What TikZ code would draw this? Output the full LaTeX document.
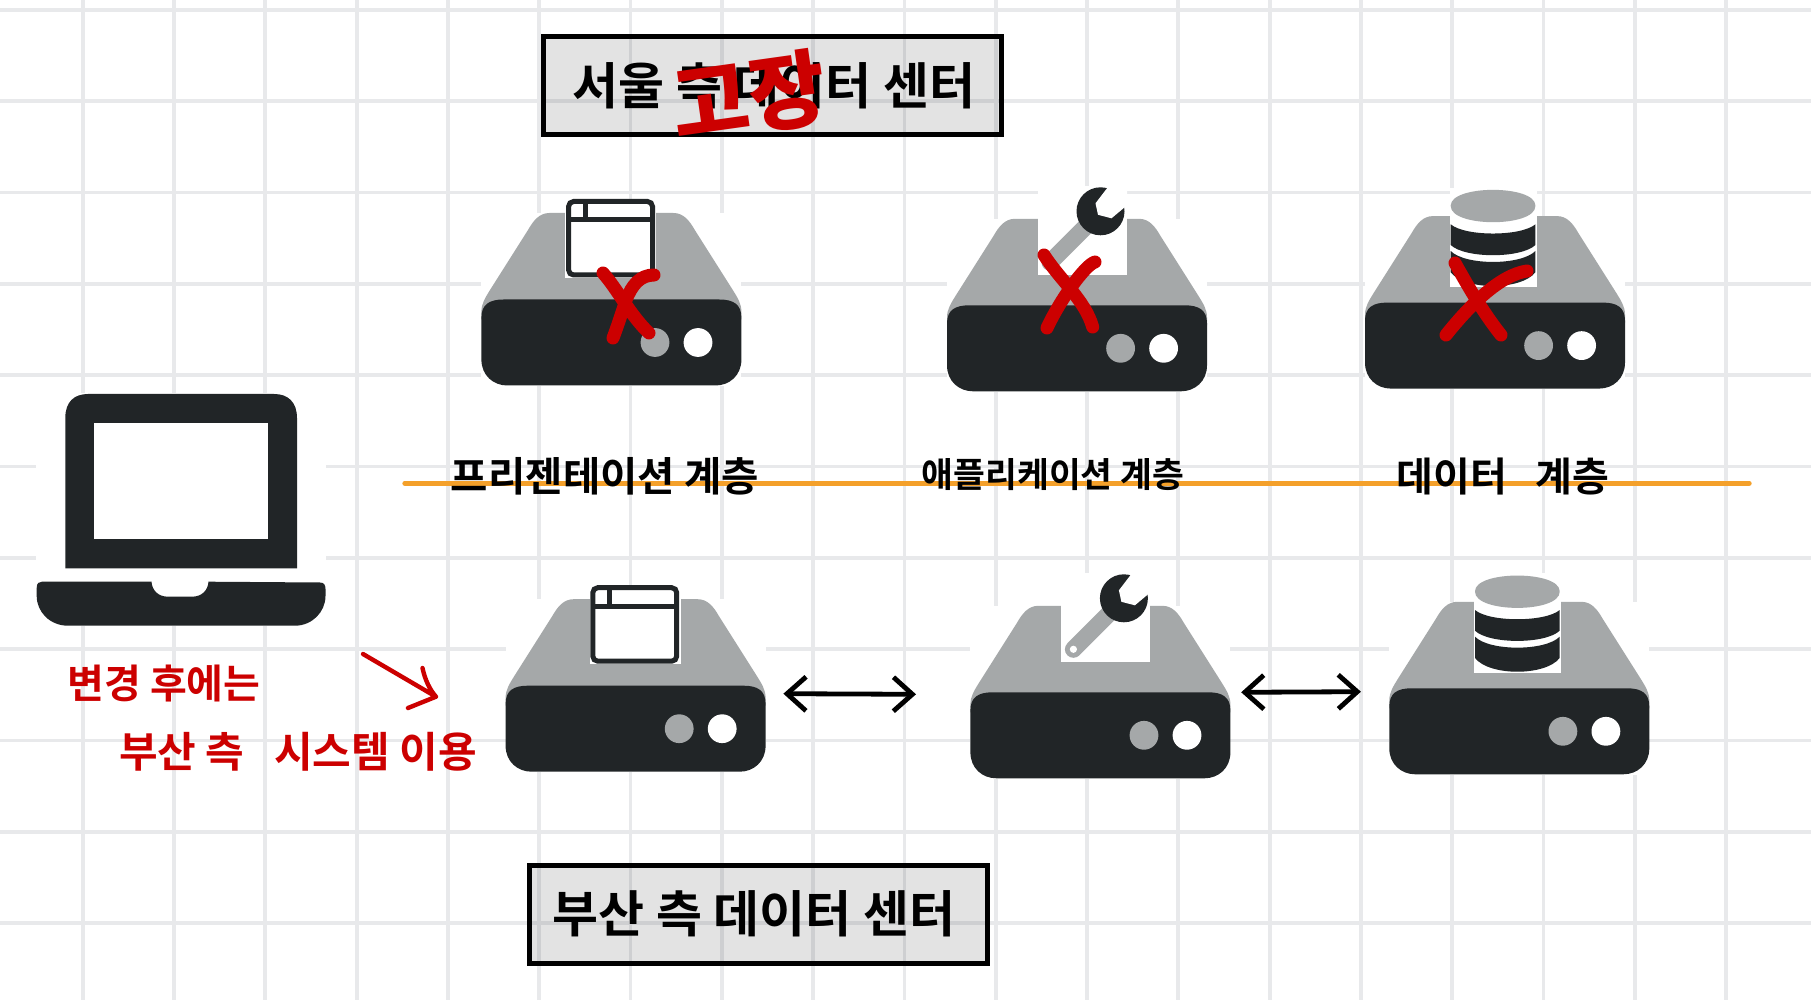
\documentclass[tikz,border=0pt]{standalone}
\usepackage{fontspec}
\setmainfont{Noto Sans CJK KR}[BoldFont=* Bold]
\newfontfamily\heavyfont{Noto Sans CJK KR Black}
\usetikzlibrary{arrows.meta,calc}
\definecolor{dk}{HTML}{212527}
\definecolor{gy}{HTML}{A5A8A9}
\definecolor{gridc}{HTML}{E8E9EB}
\definecolor{redink}{HTML}{CC0000}
\definecolor{orangeink}{HTML}{F4A02A}
\tikzset{
  gridline/.style={gridc,line width=1.9pt},
  halo/.style={fill=white,draw=none,inner sep=0pt,minimum width=130pt,minimum height=86.25pt},
  framebox/.style={draw=black,line width=2.5pt,fill=black,fill opacity=.11,text opacity=1,draw opacity=1,inner sep=0pt,outer sep=0pt,minimum width=229pt,minimum height=49pt},
  boxtxt/.style={font=\bfseries\fontsize{25}{25}\selectfont,text=black,inner sep=0pt},
  layertxt/.style={font=\bfseries\fontsize{#1}{#1}\selectfont,text=black,inner sep=0pt},
  redtxt/.style={font=\bfseries\fontsize{#1}{#1}\selectfont,text=redink,inner sep=0pt},
  crossmark/.style={redink,line width=6.5pt,line cap=round,line join=round},
  penarrow/.style={black,line width=2.4pt,line cap=round,{Straight Barb[length=9.5pt,width=17pt,line width=2.4pt]}-{Straight Barb[length=9.5pt,width=17pt,line width=2.4pt]}},
  wframe/.style={draw=dk,line width=2.5pt,fill=white,rounded corners=2.5pt},
  wline/.style={dk,line width=2.5pt},
}
\newcommand{\srv}[3]{%
  \node[halo] (#1) at (#2+130,#3) {};
  \begin{scope}[shift={(#2,#3)}]
    \fill[gy] (0,20) -- (0,12) .. controls (0,4) and (4,-2) .. (8.6,-9.5) -- (46.6,-69.5)
      .. controls (52,-79) and (58,-86.5) .. (68,-86.5) -- (192,-86.5)
      .. controls (202,-86.5) and (208,-79) .. (213.4,-69.5) -- (251.4,-9.5)
      .. controls (256,-2) and (260,4) .. (260,12) -- (260,20) -- cycle;
    \fill[dk] (0,18) .. controls (0,5) and (8,0) .. (22,0) -- (238,0)
      .. controls (252,0) and (260,5) .. (260,18) -- (260,60)
      .. controls (260,76) and (248,86) .. (234,86) -- (26,86)
      .. controls (12,86) and (0,76) .. (0,60) -- cycle;
    \fill[gy] (173.6,43) circle[radius=14.4];
    \fill[white] (216.6,43) circle[radius=14.4];
  \end{scope}}
\newcommand{\wnd}[2]{%
  \begin{scope}[shift={(#1,#2)}]
    \fill[white] (84,-100) rectangle (175,-21.5);
    \path[wframe] (87.2,-98) rectangle (171.1,-24.5);
    \draw[wline] (87.2,-79.5) -- (171.1,-79.5) (103.6,-98) -- (103.6,-79.5);
  \end{scope}}
\newcommand{\wrn}[2]{%
  \begin{scope}[shift={(#1,#2)}]
    \fill[white] (91,-119) rectangle (179.5,-30.5);
    \draw[gy,line width=8.5pt,line cap=round] (103,-43) -- (153,-93);
    \fill[dk] (153.5,-94) circle[radius=24];
    \fill[white] (161.5,-119) -- (148.5,-102) -- (151,-90.5) -- (164.5,-87) -- (180,-100) -- (180,-119) -- cycle;
    \fill[white] (103,-43) circle[radius=3.6];
  \end{scope}}
\newcommand{\dbs}[2]{%
  \begin{scope}[shift={(#1,#2)}]
    \fill[white] (84.7,-115) rectangle (171.7,-15.5);
    \fill[gy] (85.7,-97) .. controls (85.7,-118) and (170.4,-118) .. (170.4,-97) -- (170.4,-96.6)
      .. controls (170.4,-75) and (85.7,-75) .. (85.7,-96.6) -- cycle;
    \fill[dk] (85.7,-78.3) .. controls (100,-66) and (156,-66) .. (170.4,-78.3) -- (170.4,-57.6)
      .. controls (156,-44) and (100,-44) .. (85.7,-57.6) -- cycle;
    \fill[dk] (85.7,-51.6) .. controls (100,-37) and (156,-37) .. (170.4,-51.6) -- (170.4,-30.3)
      .. controls (156,-12) and (100,-12) .. (85.7,-30.3) -- cycle;
  \end{scope}}
\begin{document}
\begin{tikzpicture}[x=0.5pt,y=-0.5pt]
\useasboundingbox (0,0) rectangle (1811,1000);
\fill[white] (0,0) rectangle (1811,1000);
% grid paper
\foreach \k in {0,...,19} {\draw[gridline] ({82.7+91.3*\k},0) -- ({82.7+91.3*\k},1000);}
\foreach \k in {0,...,10} {\draw[gridline] (0,{10+91.3*\k}) -- (1811,{10+91.3*\k});}
% laptop
\node[fill=white,inner sep=0pt,minimum width=145pt,minimum height=116.5pt] (laptop) at (181,509.5) {};
\fill[dk] (65.3,568.3) -- (65.3,418) .. controls (65.3,402) and (74,394) .. (88,394) -- (274,394)
  .. controls (288,394) and (297,402) .. (297,418) -- (297,568.3) -- cycle;
\fill[white] (94.4,422.7) rectangle (268.4,539);
\fill[dk] (36.7,588) .. controls (36.7,583) and (39,581.7) .. (42,581.7) -- (151.5,581.7)
  .. controls (152,590) and (158,596.7) .. (168,596.7) -- (192,596.7)
  .. controls (202,596.7) and (208,590) .. (208.5,581.7) -- (320,582.5)
  .. controls (324,582.5) and (325.5,585) .. (325.5,589) -- (325.5,596)
  .. controls (325.5,612) and (312,625.7) .. (295,625.7) -- (68,625.7)
  .. controls (50,625.7) and (36.7,612) .. (36.7,596) -- cycle;
% title boxes
\node[framebox] (seoul) at (772.5,85.5) {};
\node[boxtxt] (seoultxt) at (774,86) {서울 측 데이터 센터};
\node[framebox] (busan) at (758,914.5) {};
\node[boxtxt] (busantxt) at (754,914) {부산 측 데이터 센터};
% servers upper row
\srv{s1}{481.4}{299.5}
\srv{s2}{947}{305.3}
\srv{s3}{1365}{302.6}
\wnd{481.4}{299.5}
\wrn{947}{305.3}
\dbs{1365}{302.6}
% servers lower row
\srv{s4}{505.6}{685.7}
\srv{s5}{970.4}{692.3}
\srv{s6}{1389.3}{688.3}
\wnd{505.6}{685.7}
\wrn{970.4}{692.3}
\dbs{1389.3}{688.3}
% orange divider
\coordinate (divl) at (405,483.3);
\coordinate (divr) at (1749,483.3);
\draw[orangeink,line width=2.7pt,line cap=round] (divl) -- (divr);
% layer labels
\node[layertxt=20.3] (l1) at (605,476) {프리젠테이션 계층};
\node[layertxt=17.3] (l2) at (1053,475) {애플리케이션 계층};
\node[layertxt=20] (l3) at (1503,477) {데이터 \hspace{10pt}계층};
% red x marks
\draw[crossmark] (603,273) .. controls (618,290) and (630,315) .. (649,333);
\draw[crossmark] (654,275) .. controls (640,275) and (632,285) .. (626,300) .. controls (622,312) and (618,325) .. (613,338);
\draw[crossmark] (1044,255) .. controls (1060,280) and (1085,300) .. (1092.7,327);
\draw[crossmark] (1095,262) .. controls (1085,265) and (1060,300) .. (1047,328);
\draw[crossmark] (1455,263) .. controls (1470,290) and (1485,315) .. (1501,335);
\draw[crossmark] (1527,271) .. controls (1500,275) and (1470,305) .. (1446,335);
% failure mark
\node[font=\heavyfont\fontsize{42}{42}\selectfont,text=redink,inner sep=0pt,rotate=8] (fail) at (749,96) {고장};
% double arrows
\draw[penarrow] ([xshift=8.7pt,yshift=-4pt]s4.east) -- ([xshift=-27pt,yshift=-1pt]s5.west);
\draw[penarrow] ([xshift=5.2pt,yshift=0pt]s5.east) -- ([xshift=-14pt,yshift=-1.7pt]s6.west);
% red note
\node[redtxt=20] (note1) at (164,684) {변경 후에는};
\node[redtxt=21] (note2) at (298,752) {부산 측 \hspace{10pt}시스템 이용};
\coordinate (ra) at (363,654);
\coordinate (rb) at (436,696.7);
\draw[redink,line width=2.2pt,line cap=round,line join=round] (ra) -- (rb) (422.5,668) .. controls (425,680) and (430,690) .. (rb) -- (408,708);
\end{tikzpicture}
\end{document}
